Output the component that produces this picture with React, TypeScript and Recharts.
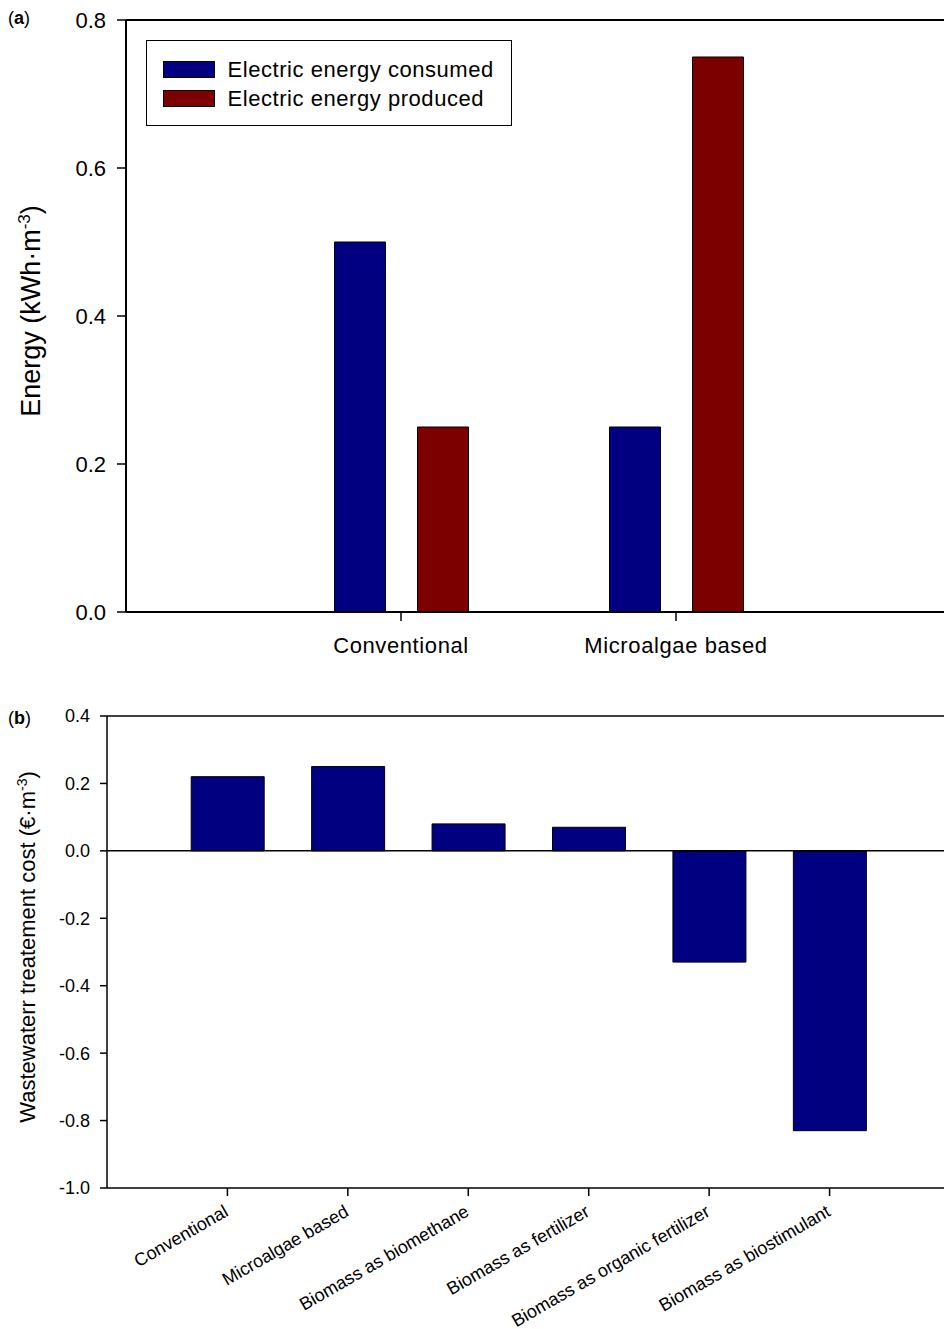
import React from 'react';
import { BarChart, Bar, XAxis, YAxis, ReferenceLine, Legend } from 'recharts';

const FONT = 'Arial, "Liberation Sans", sans-serif';

// Panel (a)
const energyCategories = ['Conventional', 'Microalgae based'];
const energyConsumed = [0.5, 0.25];
const energyProduced = [0.25, 0.75];
const energyTicks = [0, 0.2, 0.4, 0.6, 0.8];
const energySeriesNames = ['Electric energy consumed', 'Electric energy produced'];

// Panel (b)
const costCategories = [
  'Conventional',
  'Microalgae based',
  'Biomass as biomethane',
  'Biomass as fertilizer',
  'Biomass as organic fertilizer',
  'Biomass as biostimulant',
];
const costValues = [0.22, 0.25, 0.08, 0.07, -0.33, -0.83];
const costTicks = [-1.0, -0.8, -0.6, -0.4, -0.2, 0, 0.2, 0.4];

const energyData = energyCategories.map((c, i) => ({
  name: c,
  consumed: energyConsumed[i],
  produced: energyProduced[i],
}));
const costData = costCategories.map((c, i) => ({ name: c, cost: costValues[i] }));

const BLUE = '#000080';
const RED = '#7d0000';

const fmt = (v: number) => v.toFixed(1);

const EnergyLegend = (props: any) => {
  const payload = props.payload || [];
  return (
    <div
      style={{
        boxSizing: 'border-box',
        width: 366,
        height: 86,
        border: '1.5px solid #000',
        background: '#fff',
        padding: '14px 0 0 15.5px',
        fontFamily: FONT,
        fontSize: 22,
        letterSpacing: 0.55,
        color: '#000',
      }}
    >
      {payload.map((p: any, i: number) => (
        <div key={i} style={{ display: 'flex', alignItems: 'center', height: 29 }}>
          <span
            style={{
              display: 'inline-block',
              boxSizing: 'border-box',
              width: 52,
              height: 17,
              background: p.color,
              border: '1px solid #000',
            }}
          />
          <span style={{ marginLeft: 13, whiteSpace: 'nowrap' }}>{p.value}</span>
        </div>
      ))}
    </div>
  );
};

const EnergyYLabel = () => (
  <text
    transform="rotate(-90, 40, 311)"
    x={40}
    y={311}
    textAnchor="middle"
    fontSize={27}
    fontFamily={FONT}
    fill="#000"
  >
    Energy (kWh·m
    <tspan dy={-10} fontSize={17}>-3</tspan>
    <tspan dy={10}>)</tspan>
  </text>
);

// coordinates local to the panel (b) chart, which starts at page y = 696
const CostYLabel = () => (
  <text
    transform="rotate(-90, 35, 251)"
    x={35}
    y={251}
    textAnchor="middle"
    fontSize={22}
    fontFamily={FONT}
    fill="#000"
  >
    Wastewaterr treatement cost (€·m
    <tspan dy={-8} fontSize={14}>-3</tspan>
    <tspan dy={8}>)</tspan>
  </text>
);

const CostXTick = (props: any) => {
  const { x, y, payload } = props;
  return (
    <text
      transform={`translate(${x + 2},${y + 17}) rotate(-30)`}
      x={0}
      y={0}
      textAnchor="end"
      fontSize={18}
      fontFamily={FONT}
      fill="#000"
    >
      {payload.value}
    </text>
  );
};

export default function App() {
  return (
    <div
      style={{
        position: 'absolute',
        top: 0,
        left: 0,
        width: 944,
        height: 1329,
        overflow: 'hidden',
        background: '#fff',
      }}
    >
      <div style={{ position: 'absolute', top: 0, left: 0 }}>
        <BarChart
          width={960}
          height={690}
          data={energyData}
          margin={{ top: 20, right: 9, bottom: 18, left: 0 }}
          barGap={32}
          barSize={51}
        >
          <XAxis
            dataKey="name"
            height={60}
            interval={0}
            padding={{ left: 137.5, right: 137.5 }}
            tickSize={9}
            tickMargin={16}
            axisLine={{ stroke: '#000', strokeWidth: 2 }}
            tickLine={{ stroke: '#000', strokeWidth: 1.5 }}
            tick={{ fill: '#000', fontSize: 22, fontFamily: FONT, letterSpacing: 0.6 }}
          />
          <YAxis
            type="number"
            domain={[0, 0.8]}
            ticks={energyTicks}
            tickFormatter={fmt}
            width={126}
            tickSize={9}
            tickMargin={11}
            axisLine={{ stroke: '#000', strokeWidth: 2 }}
            tickLine={{ stroke: '#000', strokeWidth: 1.5 }}
            tick={{ fill: '#000', fontSize: 22, fontFamily: FONT }}
            label={EnergyYLabel}
          />
          <ReferenceLine y={0.8} stroke="#000" strokeWidth={2} />
          <Legend
            layout="horizontal"
            verticalAlign="middle"
            align="center"
            width={366}
            height={86}
            wrapperStyle={{ left: 146, top: 40, width: 366, height: 86 }}
            content={EnergyLegend}
          />
          <Bar
            dataKey="consumed"
            name={energySeriesNames[0]}
            fill={BLUE}
            stroke="#000"
            strokeWidth={1}
            isAnimationActive={false}
          />
          <Bar
            dataKey="produced"
            name={energySeriesNames[1]}
            fill={RED}
            stroke="#000"
            strokeWidth={1}
            isAnimationActive={false}
          />
        </BarChart>
      </div>

      <div style={{ position: 'absolute', top: 696, left: 0 }}>
        <BarChart
          width={960}
          height={633}
          data={costData}
          margin={{ top: 20, right: 10, bottom: 11, left: 0 }}
          barSize={73}
        >
          <XAxis
            dataKey="name"
            height={130}
            interval={0}
            padding={{ left: 60.2, right: 60.2 }}
            tickSize={8}
            tickMargin={2}
            axisLine={{ stroke: '#000', strokeWidth: 1.5 }}
            tickLine={{ stroke: '#000', strokeWidth: 1.5 }}
            tick={CostXTick}
          />
          <YAxis
            type="number"
            domain={[-1, 0.4]}
            ticks={costTicks}
            tickFormatter={fmt}
            width={107}
            tickSize={7}
            tickMargin={10}
            axisLine={{ stroke: '#000', strokeWidth: 1.5 }}
            tickLine={{ stroke: '#000', strokeWidth: 1.5 }}
            tick={{ fill: '#000', fontSize: 18, fontFamily: FONT }}
            label={CostYLabel}
          />
          <ReferenceLine y={0.4} stroke="#000" strokeWidth={1.5} />
          <ReferenceLine y={0} stroke="#000" strokeWidth={1.5} />
          <Bar dataKey="cost" fill={BLUE} stroke="#000" strokeWidth={1} isAnimationActive={false} />
        </BarChart>
      </div>

      <svg
        width={944}
        height={1329}
        style={{ position: 'absolute', top: 0, left: 0, pointerEvents: 'none' }}
      >
        <text x={8} y={24} fontSize={18} fontFamily={FONT} fill="#000">
          (<tspan fontWeight="bold">a</tspan>)
        </text>
        <text x={8} y={724} fontSize={18} fontFamily={FONT} fill="#000">
          (<tspan fontWeight="bold">b</tspan>)
        </text>
      </svg>
    </div>
  );
}
